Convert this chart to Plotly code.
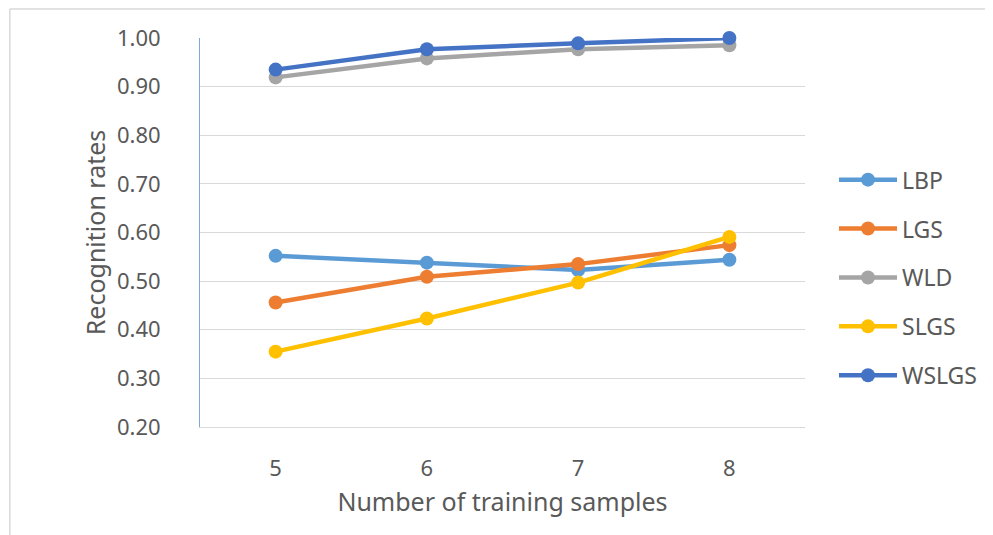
import plotly.graph_objects as go

x_labels = ["5", "6", "7", "8"]
LBP = [0.552, 0.538, 0.523, 0.544]
LGS = [0.456, 0.509, 0.535, 0.574]
WLD = [0.919, 0.958, 0.977, 0.985]
SLGS = [0.355, 0.423, 0.497, 0.591]
WSLGS = [0.935, 0.977, 0.989, 1.000]

series = [
    ("LBP", LBP, "#5B9BD5"),
    ("LGS", LGS, "#ED7D31"),
    ("WLD", WLD, "#A5A5A5"),
    ("SLGS", SLGS, "#FFC000"),
    ("WSLGS", WSLGS, "#4472C4"),
]

FONT = "Noto Sans"
GREY = "#595959"

fig = go.Figure()
for name, vals, col in series:
    fig.add_trace(go.Scatter(
        x=x_labels, y=vals, name=name, mode="lines+markers",
        line=dict(color=col, width=4.5),
        marker=dict(color=col, size=14),
        legendgroup=name, cliponaxis=False,
    ))

# page offset (browser body margin)
OFF = 8
W, H = 993 - OFF, 535 - OFF
# plot area in page pixels: left 200, right 806, top 37.5, bottom 427.5
L = 200 - OFF
T = 37.5 - OFF
pw, ph = 606, 390
R = W - L - pw
B = H - T - ph

def px(xp):
    return (xp - OFF - L) / pw

def py(yp):
    return (T + ph - (yp - OFF)) / ph

fig.update_layout(
    width=W, height=H,
    margin=dict(l=L, r=R, t=T, b=B, pad=0),
    paper_bgcolor="white", plot_bgcolor="white",
    font=dict(family=FONT, color=GREY, size=20),
    showlegend=True,
    legend=dict(
        x=px(834), y=py(158), xanchor="left", yanchor="top",
        font=dict(size=23, color=GREY, family=FONT),
        itemwidth=58, tracegroupgap=16,
        bgcolor="rgba(0,0,0,0)",
    ),
    xaxis=dict(
        type="category", range=[-0.5, 3.5],
        showgrid=False, showline=True, linecolor="#D9D9D9", linewidth=1,
        ticks="", tickfont=dict(size=22, color=GREY, family=FONT),
        ticklabelstandoff=22,
        title=dict(text="Number of training samples", font=dict(size=25, color=GREY, family=FONT), standoff=12),
        zeroline=False,
    ),
    yaxis=dict(
        range=[0.2, 1.0], dtick=0.1, tick0=0.2, tickformat=".2f",
        showgrid=True, gridcolor="#D9D9D9", gridwidth=1,
        showline=True, linecolor="#7FA8D8", linewidth=1,
        ticks="", tickfont=dict(size=22, color=GREY, family=FONT),
        ticklabelstandoff=34,
        title=dict(text="Recognition rates", font=dict(size=25, color=GREY, family=FONT), standoff=4),
        zeroline=False,
    ),
    shapes=[
        dict(type="line", xref="paper", yref="paper", x0=px(9.5), x1=px(9.5), y0=py(8.5), y1=py(560),
             line=dict(color="#D9D9D9", width=1.5)),
        dict(type="line", xref="paper", yref="paper", x0=px(9.5), x1=px(1010), y0=py(8.5), y1=py(8.5),
             line=dict(color="#D9D9D9", width=1.5)),
    ],
)

fig.write_html("out.html")
